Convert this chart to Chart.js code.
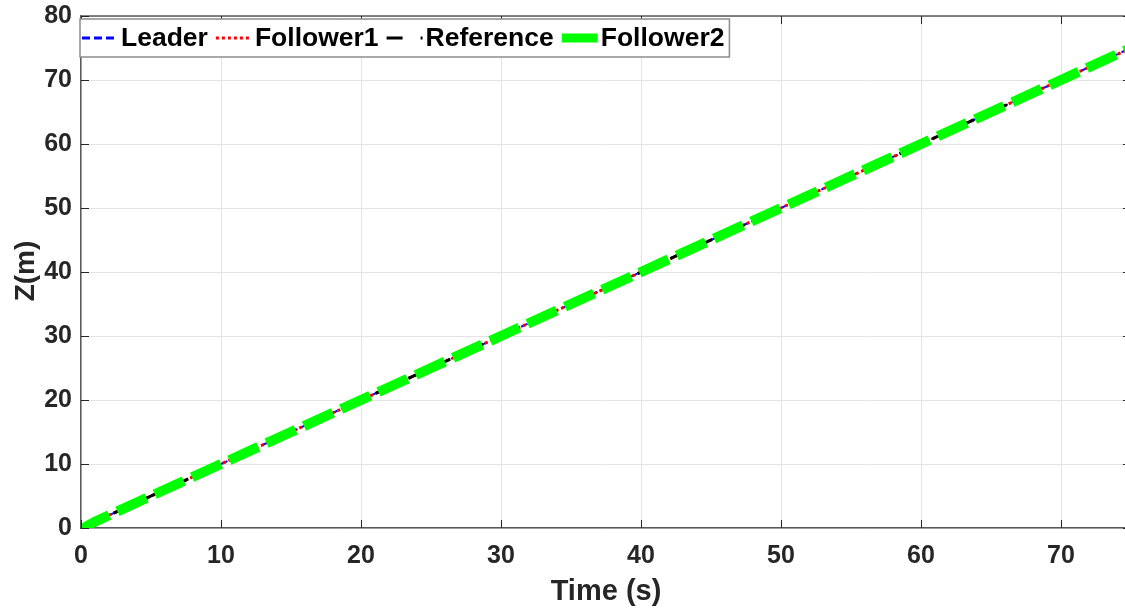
<!DOCTYPE html>
<html>
<head>
<meta charset="utf-8">
<script src="https://cdn.jsdelivr.net/npm/chart.js@4.4.1/dist/chart.umd.min.js"></script>
<style>
  html, body { margin: 0; padding: 0; background: #fff; overflow: hidden; }
  #wrap { width: 1125px; height: 610px; overflow: hidden; }
</style>
</head>
<body>
<div id="wrap"><canvas id="chart_canvas" width="1140" height="610"></canvas></div>
<script>
// values
const time_s = [0, 0.5, 1, 2, 5, 10, 15, 20, 25, 30, 35, 40, 45, 50, 55, 60, 65, 70, 75];
const leader_z = [0, 0.45, 1.0, 2.0, 5.0, 10.0, 15.0, 20.0, 25.0, 30.0, 35.0, 40.0, 45.0, 50.0, 55.0, 60.0, 65.0, 70.0, 75.0];
const follower1_z = [0, 0.45, 1.0, 2.0, 5.0, 10.0, 15.0, 20.0, 25.0, 30.0, 35.0, 40.0, 45.0, 50.0, 55.0, 60.0, 65.0, 70.0, 75.0];
const reference_z = [0, 0.5, 1.0, 2.0, 5.0, 10.0, 15.0, 20.0, 25.0, 30.0, 35.0, 40.0, 45.0, 50.0, 55.0, 60.0, 65.0, 70.0, 75.0];
const follower2_z = [-0.3, 0.4, 1.0, 2.0, 5.0, 10.0, 15.0, 20.0, 25.0, 30.0, 35.0, 40.0, 45.0, 50.0, 55.0, 60.0, 65.0, 70.0, 75.0];
const series_names = ['Leader', 'Follower1', 'Reference', 'Follower2'];
const x_ticks = [0, 10, 20, 30, 40, 50, 60, 70];
const y_ticks = [0, 10, 20, 30, 40, 50, 60, 70, 80];

const TEXT_COLOR = '#262626';
const FONT = '"Liberation Sans", Arial, sans-serif';

function to_points(values) {
    return time_s.map((t, i) => ({ x: t, y: values[i] }));
}

const series_styles = [
    { color: 'rgb(0,0,255)', width: 2, dash: [7, 4], legend_dash: [8, 4], legend_width: 3 },
    { color: 'rgb(255,0,0)', width: 3, dash: [3, 3], legend_dash: [3, 3], legend_width: 3 },
    { color: 'rgb(0,0,0)', width: 3, dash: [10, 26], legend_dash: [16, 18], legend_width: 3 },
    { color: 'rgb(0,255,0)', width: 10, dash: [32, 9], legend_dash: [], legend_width: 9 }
];

const series_values = [leader_z, follower1_z, reference_z, follower2_z];

const matlab_frame = {
    id: 'matlab_frame',
    afterDraw: (chart) => {
        const ctx = chart.ctx;
        const area = chart.chartArea;
        const xs = chart.scales.x, ys = chart.scales.y;
        ctx.save();
        // top frame line
        ctx.strokeStyle = '#5a5a5a';
        ctx.lineWidth = 1.5;
        ctx.beginPath();
        ctx.moveTo(area.left, area.top);
        ctx.lineTo(area.right, area.top);
        ctx.moveTo(area.right, area.top);
        ctx.lineTo(area.right, area.bottom);
        ctx.stroke();
        // inward tick marks
        ctx.strokeStyle = TEXT_COLOR;
        ctx.lineWidth = 1;
        ctx.beginPath();
        x_ticks.forEach(v => {
            const px = Math.round(xs.getPixelForValue(v)) + 0.5;
            ctx.moveTo(px, area.bottom);
            ctx.lineTo(px, area.bottom - 8);
            ctx.moveTo(px, area.top);
            ctx.lineTo(px, area.top + 8);
        });
        y_ticks.forEach(v => {
            const py = Math.round(ys.getPixelForValue(v)) + 0.5;
            ctx.moveTo(area.left, py);
            ctx.lineTo(area.left + 8, py);
            ctx.moveTo(area.right, py);
            ctx.lineTo(area.right - 8, py);
        });
        ctx.stroke();

        // axis titles
        ctx.fillStyle = TEXT_COLOR;
        ctx.textAlign = 'center';
        ctx.textBaseline = 'middle';
        ctx.font = 'bold 29px ' + FONT;
        ctx.fillText('Time (s)', 606, 592);
        ctx.save();
        ctx.translate(26, 271);
        ctx.rotate(-Math.PI / 2);
        ctx.font = 'bold 28px ' + FONT;
        ctx.fillText('Z(m)', 0, 0);
        ctx.restore();

        // legend box
        const box_x = area.left - 1, box_y = 19, box_h = 38;
        ctx.font = 'bold 26.5px ' + FONT;
        const sample_len = 36;
        let cur = box_x + 2;
        const items = [];
        series_names.forEach((name, i) => {
            const tw = ctx.measureText(name).width;
            items.push({ x: cur, name: name, tw: tw, st: series_styles[i] });
            cur += sample_len + 3 + tw + 8;
        });
        const box_w = cur - box_x - 3;
        ctx.fillStyle = '#fff';
        ctx.fillRect(box_x, box_y, box_w, box_h);
        ctx.strokeStyle = '#8c8c8c';
        ctx.lineWidth = 1.5;
        ctx.strokeRect(box_x, box_y, box_w, box_h);
        const cy = box_y + box_h / 2;
        items.forEach(it => {
            ctx.save();
            ctx.strokeStyle = it.st.color;
            ctx.lineWidth = it.st.legend_width;
            ctx.setLineDash(it.st.legend_dash);
            ctx.beginPath();
            ctx.moveTo(it.x, cy);
            ctx.lineTo(it.x + sample_len, cy);
            ctx.stroke();
            ctx.restore();
            ctx.fillStyle = '#000';
            ctx.textAlign = 'left';
            ctx.fillText(it.name, it.x + sample_len + 3, cy + 1);
        });
        ctx.restore();
    }
};

const config = {
    type: 'line',
    data: {
        datasets: series_names.map((name, i) => ({
            label: name,
            data: to_points(series_values[i]),
            borderColor: series_styles[i].color,
            borderWidth: series_styles[i].width,
            borderDash: series_styles[i].dash,
            borderCapStyle: 'butt',
            pointRadius: 0,
            tension: 0,
            fill: false,
            order: series_names.length - i
        }))
    },
    options: {
        animation: false,
        responsive: false,
        layout: { padding: { top: 16, right: 9, left: 0, bottom: 0 } },
        plugins: {
            legend: { display: false },
            tooltip: { enabled: false }
        },
        scales: {
            x: {
                type: 'linear',
                min: 0,
                max: 75,
                afterFit: (scale) => {
                    scale.height = 82;
                    scale.paddingLeft = 0;
                    scale.paddingRight = 0;
                },
                afterBuildTicks: (scale) => { scale.ticks = x_ticks.map(v => ({ value: v })); },
                grid: { color: '#e3e3e3', drawTicks: false, tickLength: 0 },
                border: { color: '#5a5a5a', width: 1.5 },
                ticks: {
                    padding: 13,
                    color: TEXT_COLOR,
                    font: { family: FONT, size: 25, weight: 'bold' }
                }
            },
            y: {
                type: 'linear',
                min: 0,
                max: 80,
                afterFit: (scale) => {
                    scale.width = 81;
                    scale.paddingTop = 0;
                    scale.paddingBottom = 0;
                },
                afterBuildTicks: (scale) => { scale.ticks = y_ticks.map(v => ({ value: v })); },
                grid: { color: '#e3e3e3', drawTicks: false, tickLength: 0 },
                border: { color: '#5a5a5a', width: 1.5 },
                ticks: {
                    padding: 9,
                    color: TEXT_COLOR,
                    font: { family: FONT, size: 25, weight: 'bold' }
                }
            }
        }
    },
    plugins: [matlab_frame]
};

new Chart(document.getElementById('chart_canvas').getContext('2d'), config);
</script>
</body>
</html>
